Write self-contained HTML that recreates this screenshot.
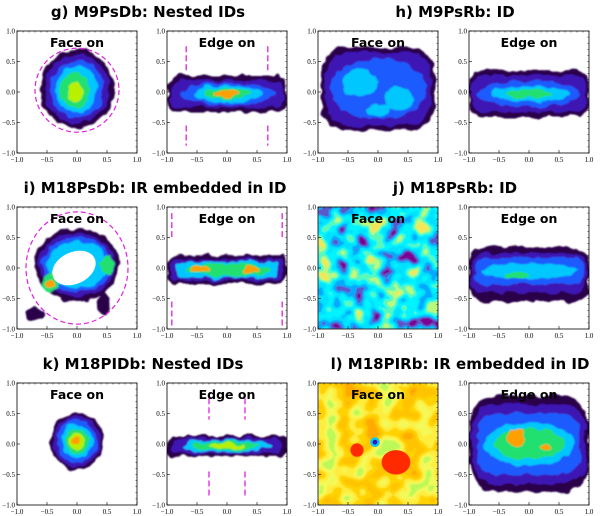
<!DOCTYPE html>
<html><head><meta charset="utf-8">
<style>
html,body{margin:0;padding:0;background:#fff;}
svg{display:block;}
.ttl{font-family:"DejaVu Sans","Liberation Sans",sans-serif;font-weight:bold;font-size:15px;fill:#000;}
.lab{font-family:"DejaVu Sans","Liberation Sans",sans-serif;font-weight:bold;font-size:12.5px;fill:#000;}
.tick{font-family:"Liberation Serif",serif;font-size:7px;fill:#000;}
</style></head>
<body>
<svg id="fig" width="600" height="516" viewBox="0 0 600 516" xmlns="http://www.w3.org/2000/svg">
<defs>
<filter id="rough" x="-20%" y="-20%" width="140%" height="140%">
<feTurbulence type="fractalNoise" baseFrequency="0.09" numOctaves="2" seed="3"/>
<feDisplacementMap in="SourceGraphic" scale="8" xChannelSelector="R" yChannelSelector="G"/>
<feGaussianBlur stdDeviation="0.8"/>
</filter>
<filter id="noiseJ" x="0" y="0" width="100%" height="100%">
<feTurbulence type="fractalNoise" baseFrequency="0.06" numOctaves="2" seed="7"/>
<feColorMatrix type="matrix" values="1.6 0 0 0 -0.3  1.6 0 0 0 -0.3  1.6 0 0 0 -0.3  0 0 0 0 1"/>
<feComponentTransfer>
<feFuncR type="discrete" tableValues="0.2 0.1 0.0 0 0 0.1 0.5 0.9"/>
<feFuncG type="discrete" tableValues="0.0 0.1 0.4 0.75 0.9 0.95 0.95 0.8"/>
<feFuncB type="discrete" tableValues="0.3 0.6 1 1 1 0.5 0.2 0.1"/>
</feComponentTransfer>
<feGaussianBlur stdDeviation="0.6"/>
</filter>
<filter id="noiseL" x="0" y="0" width="100%" height="100%">
<feTurbulence type="fractalNoise" baseFrequency="0.05" numOctaves="2" seed="11"/>
<feColorMatrix type="matrix" values="1.6 0 0 0 -0.3  1.6 0 0 0 -0.3  1.6 0 0 0 -0.3  0 0 0 0 1"/>
<feComponentTransfer>
<feFuncR type="discrete" tableValues="0.5 0.9 1 1 1 1"/>
<feFuncG type="discrete" tableValues="0.95 0.95 0.85 0.65 0.55 0.4"/>
<feFuncB type="discrete" tableValues="0.1 0.1 0.05 0 0 0"/>
</feComponentTransfer>
<feGaussianBlur stdDeviation="0.8"/>
</filter>
</defs>
<g id="root"></g>
</svg>
<script>
const NS="http://www.w3.org/2000/svg";
const root=document.getElementById('root');
const tickValues=[-1.0,-0.5,0.0,0.5,1.0];
const tickLabels=["\u22121.0","\u22120.5","0.0","0.5","1.0"];
const colX=[17,167,318,469];
const rowY=[31,207,383];
const PW=120, PH=122;
const titles=["g) M9PsDb: Nested IDs","h) M9PsRb: ID","i) M18PsDb: IR embedded in ID","j) M18PsRb: ID","k) M18PIDb: Nested IDs","l) M18PIRb: IR embedded in ID"];
const titleX=[148,455,155,455,143,460];
const palette=["#2b0048","#3c14b4","#1a5cff","#00c8ff","#22e070","#b8f000","#ffa000","#ff2a00"];
// layer specs: [cx, cy, rx, ry, colorIndex, shape] ; shape 'r' = rounded rect
const layersG_face=[[0,0.05,0.62,0.64,0],[0,0.05,0.53,0.56,1],[0,0.05,0.44,0.47,2],[0,0.05,0.35,0.38,3],[-0.03,0.03,0.24,0.29,4],[-0.03,0,0.13,0.17,5]];
const layersG_edge=[[0,-0.03,1.0,0.3,0,'r'],[0,-0.03,0.95,0.22,1,'r'],[0,-0.03,0.78,0.17,2],[0,-0.03,0.58,0.13,3],[0,-0.03,0.4,0.09,4],[0,-0.03,0.22,0.06,6]];
const layersH_face=[[0,0.05,0.95,0.68,0,'r'],[0,0.05,0.88,0.6,1,'r'],[0,0.05,0.8,0.5,2],[-0.3,0.15,0.3,0.22,3],[0.35,-0.1,0.25,0.2,3],[0.0,-0.3,0.2,0.12,3]];
const layersH_edge=[[0,-0.03,1.0,0.38,0,'r'],[0,-0.03,0.95,0.3,1,'r'],[0,-0.03,0.85,0.22,2],[0,-0.03,0.65,0.13,3],[0,-0.03,0.4,0.07,4]];
const layersI_face=[[0,0.05,0.7,0.6,0],[0,0.05,0.63,0.52,1],[0,0.05,0.57,0.45,2],[0,0.05,0.5,0.38,3],[0.5,0.05,0.12,0.18,4],[-0.45,-0.25,0.13,0.15,4],[-0.45,-0.25,0.06,0.07,6],[-0.7,-0.75,0.15,0.1,0],[0.45,-0.6,0.1,0.2,0]];
const holeI=[-0.05,0.0,0.38,0.26];
const layersI_edge=[[0,-0.03,1.0,0.24,0,'r'],[0,-0.03,0.95,0.18,1,'r'],[0,-0.03,0.85,0.13,3,'r'],[0,-0.03,0.72,0.1,4],[-0.45,-0.03,0.17,0.06,6],[0.4,-0.03,0.13,0.06,6]];
const layersJ_edge=[[0,-0.1,1.0,0.45,0,'r'],[0,-0.08,0.95,0.32,1,'r'],[0,-0.05,0.9,0.22,2,'r'],[0,-0.05,0.8,0.13,3],[-0.2,-0.12,0.2,0.06,4]];
const layersK_face=[[0,0.05,0.45,0.47,0],[0,0.05,0.4,0.42,1],[0,0.05,0.33,0.35,2],[0,0.05,0.26,0.28,3],[0,0.05,0.19,0.21,4],[0,0.05,0.12,0.13,5],[0,0.05,0.06,0.06,6]];
const layersK_edge=[[0,-0.03,1.0,0.17,0,'r'],[0,-0.03,0.9,0.13,1,'r'],[0,-0.03,0.75,0.1,3],[0,-0.03,0.55,0.07,4],[0,-0.03,0.3,0.04,5]];
const layersL_edge=[[0,0,1.0,0.8,0,'r'],[0,0,0.95,0.65,1,'r'],[0,0,0.85,0.5,2,'r'],[0,0,0.75,0.35,3],[0,0,0.6,0.24,4],[-0.2,0.1,0.15,0.15,6],[0.3,-0.07,0.1,0.06,6]];
const layersL_face=[[0.3,-0.3,0.24,0.2,7],[-0.35,-0.1,0.11,0.11,7],[-0.05,0.03,0.08,0.08,3],[-0.05,0.03,0.04,0.04,1]];

function el(tag,attrs,parent){const e=document.createElementNS(NS,tag);for(const k in attrs)e.setAttribute(k,attrs[k]);(parent||root).appendChild(e);return e;}
function sx(p,v){return p.x+(v+1)/2*PW;}
function sy(p,v){return p.y+(1-v)/2*PH;}

function drawLayers(p,g,layers,rough){
  const lg=el('g',rough?{filter:'url(#rough)'}:{},g);
  layers.forEach(L=>{
    const rx=L[2]*PW/2, ry=L[3]*PH/2;
    let e;
    if(L[5]==='r') e=el('rect',{x:sx(p,L[0])-rx,y:sy(p,L[1])-ry,width:2*rx,height:2*ry,rx:Math.min(rx,ry)*0.6,fill:palette[L[4]]},lg);
    else e=el('ellipse',{cx:sx(p,L[0]),cy:sy(p,L[1]),rx:rx,ry:ry,fill:palette[L[4]]},lg);
    
    
  });
  return lg;
}
function axes(p,g){
  const f=el('rect',{x:p.x,y:p.y,width:PW,height:PH,fill:'none',stroke:'#000','stroke-width':0.8},g);
  
  
  tickValues.forEach((v,i)=>{
    const tx=el('text',{x:sx(p,v),y:p.y+PH+9,class:'tick','text-anchor':'middle'},g);tx.textContent=tickLabels[i];
    
    
    const ty=el('text',{x:p.x-2,y:sy(p,v)+2.5,class:'tick','text-anchor':'end'},g);ty.textContent=tickLabels[i];
    
    
    el('line',{x1:sx(p,v),x2:sx(p,v),y1:p.y+PH,y2:p.y+PH-3,stroke:'#000','stroke-width':0.6},g);
    el('line',{x1:p.x,x2:p.x+3,y1:sy(p,v),y2:sy(p,v),stroke:'#000','stroke-width':0.6},g);
  });
  for(let k=-1;k<=1.001;k+=0.1){
    el('line',{x1:sx(p,k),x2:sx(p,k),y1:p.y,y2:p.y+1.5,stroke:'#000','stroke-width':0.5},g);
    el('line',{x1:p.x+PW,x2:p.x+PW-1.5,y1:sy(p,k),y2:sy(p,k),stroke:'#000','stroke-width':0.5},g);
  }
}
function label(p,g,txt,col){
  const t=el('text',{x:p.x+PW/2,y:p.y+16,class:'lab','text-anchor':'middle',fill:col||'#000'},g);
  t.textContent=txt;
  
  
}
function dashV(p,g,x,y1,y2){el('line',{x1:sx(p,x),x2:sx(p,x),y1:sy(p,y1),y2:sy(p,y2),stroke:'#e020e0','stroke-width':1.3,'stroke-dasharray':'6,3'},g);}

titles.forEach((t,i)=>{
  const r=Math.floor(i/2);
  const tt=el('text',{x:titleX[i],y:rowY[r]-14,class:'ttl','text-anchor':'middle'});
  tt.textContent=t;
  
  
});

const panels=[];
for(let r=0;r<3;r++)for(let c=0;c<4;c++)panels.push({x:colX[c],y:rowY[r],r,c});
panels.forEach((p,idx)=>{
  const g=el('g',{});
  
  
  const cid='clip'+idx;
  const cp=el('clipPath',{id:cid},g);el('rect',{x:p.x,y:p.y,width:PW,height:PH},cp);
  const inner=el('g',{'clip-path':'url(#'+cid+')'},g);
  const face=p.c%2===0;
  if(idx===0){drawLayers(p,inner,layersG_face,true);el('circle',{cx:sx(p,0),cy:sy(p,0.03),r:0.7*PW/2,fill:'none',stroke:'#e020e0','stroke-width':1.2,'stroke-dasharray':'5,3'},inner);}
  if(idx===1){drawLayers(p,inner,layersG_edge,true);[-0.68,0.68].forEach(x=>{dashV(p,inner,x,0.75,0.35);dashV(p,inner,x,-0.55,-0.88);});}
  if(idx===2){drawLayers(p,inner,layersH_face,true);}
  if(idx===3){drawLayers(p,inner,layersH_edge,true);}
  if(idx===4){drawLayers(p,inner,layersI_face,true);el('ellipse',{cx:sx(p,holeI[0]),cy:sy(p,holeI[1]),rx:holeI[2]*PW/2,ry:holeI[3]*PH/2,fill:'#fff',transform:'rotate(-25 '+sx(p,holeI[0])+' '+sy(p,holeI[1])+')'},inner);el('ellipse',{cx:sx(p,0),cy:sy(p,0),rx:0.85*PW/2,ry:0.92*PH/2,fill:'none',stroke:'#e020e0','stroke-width':1.2,'stroke-dasharray':'5,3'},inner);}
  if(idx===5){drawLayers(p,inner,layersI_edge,true);[-0.92,0.92].forEach(x=>{dashV(p,inner,x,0.9,0.5);dashV(p,inner,x,-0.55,-0.95);});}
  if(idx===6){el('rect',{x:p.x,y:p.y,width:PW,height:PH,filter:'url(#noiseJ)'},inner);}
  if(idx===7){drawLayers(p,inner,layersJ_edge,true);}
  if(idx===8){drawLayers(p,inner,layersK_face,true);}
  if(idx===9){drawLayers(p,inner,layersK_edge,true);[-0.3,0.3].forEach(x=>{dashV(p,inner,x,0.75,0.4);dashV(p,inner,x,-0.45,-0.85);});}
  if(idx===10){el('rect',{x:p.x,y:p.y,width:PW,height:PH,filter:'url(#noiseL)'},inner);drawLayers(p,inner,layersL_face,false);}
  if(idx===11){drawLayers(p,inner,layersL_edge,true);}
  axes(p,g);
  label(p,g,face?'Face on':'Edge on',idx===6?'#fff':'#000');
});
</script>
</body></html>
